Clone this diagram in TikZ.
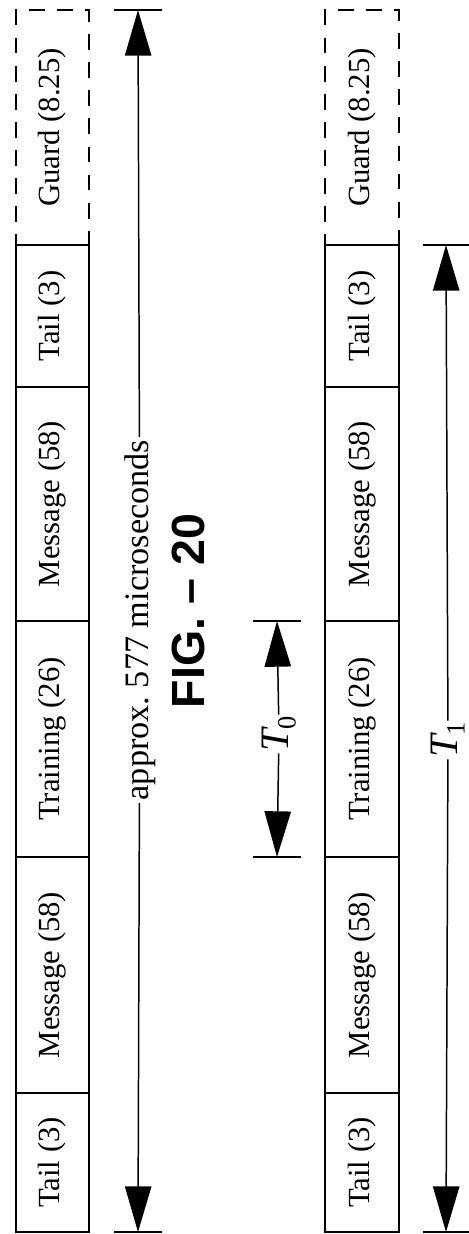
\documentclass[tikz,border=0pt]{standalone}
\usepackage{fontspec}
\setmainfont{Liberation Serif}
\newfontfamily\figfont{Liberation Sans}
\usetikzlibrary{arrows.meta}

\tikzset{
  lbl/.style = {rotate=90, font=\fontsize{17.5}{20}\selectfont, inner sep=1pt},
  dim/.style = {line width=0.85pt, -{Triangle[length=26pt, width=15pt]}},
  guardbox/.style = {dash pattern=on 9pt off 7pt, dash phase=3pt}
}
\newcommand{\tlabel}[1]{{\itshape T}\raisebox{-4pt}{\fontsize{15}{15}\selectfont #1}}

\begin{document}
\begin{tikzpicture}[x=0.02cm, y=-0.02cm, line width=0.85pt]
        \useasboundingbox (0,0) rectangle (469,1234);
        % first burst
        \draw[guardbox] (16,245) -- (16,10) -- (89,10) -- (89,245);
        \path (16,10) rectangle node[lbl] (guardA) {Guard (8.25)} (89,245);
        \draw (16,245) rectangle node[lbl] (tailA) {Tail (3)} (89,387);
        \draw (16,387) rectangle node[lbl] (msgA) {Message (58)} (89,621);
        \draw (16,621) rectangle node[lbl] (trainA) {Training (26)} (89,857);
        \draw (16,857) rectangle node[lbl] (msgB) {Message (58)} (89,1093);
        \draw (16,1093) rectangle node[lbl] (tailB) {Tail (3)} (89,1232);
        % burst length
        \coordinate (ftop) at (138,10);
        \coordinate (fbot) at (138,1232);
        \draw (114,10) -- (162,10);
        \draw (114,1232) -- (162,1232);
        \node[lbl, font=\fontsize{19.5}{22}\selectfont] (frame) at (140,620) {approx.\ 577 microseconds};
        \draw[dim] (frame) -- (ftop);
        \draw[dim] (frame) -- (fbot);
        % caption
        \node[rotate=90, font=\figfont\bfseries\fontsize{26.5}{30}\selectfont, inner sep=0pt] (fig) at (188,611) {FIG. \textendash\ 20};
        % second burst
        \draw[guardbox] (325,245) -- (325,10) -- (399,10) -- (399,245);
        \path (325,10) rectangle node[lbl] (guardC) {Guard (8.25)} (399,245);
        \draw (325,245) rectangle node[lbl] (tailC) {Tail (3)} (399,387);
        \draw (325,387) rectangle node[lbl] (msgC) {Message (58)} (399,621);
        \draw (325,621) rectangle node[lbl] (trainC) {Training (26)} (399,857);
        \draw (325,857) rectangle node[lbl] (msgD) {Message (58)} (399,1093);
        \draw (325,1093) rectangle node[lbl] (tailD) {Tail (3)} (399,1232);
        % T0
        \coordinate (t0top) at (277,621);
        \coordinate (t0bot) at (277,857);
        \draw (253,621) -- (301,621);
        \draw (253,857) -- (301,857);
        \node[lbl, font=\fontsize{23}{26}\selectfont, inner sep=0.5pt] (tzero) at (279,734) {\tlabel{0}};
        \draw[dim] (tzero) -- (t0top);
        \draw[dim] (tzero) -- (t0bot);
        % T1
        \coordinate (t1top) at (446,245);
        \coordinate (t1bot) at (446,1232);
        \draw (423,245) -- (469,245);
        \draw (423,1232) -- (469,1232);
        \node[lbl, font=\fontsize{23}{26}\selectfont, inner sep=0.5pt] (tone) at (448,740) {\tlabel{1}};
        \draw[dim] (tone) -- (t1top);
        \draw[dim] (tone) -- (t1bot);
\end{tikzpicture}
\end{document}
